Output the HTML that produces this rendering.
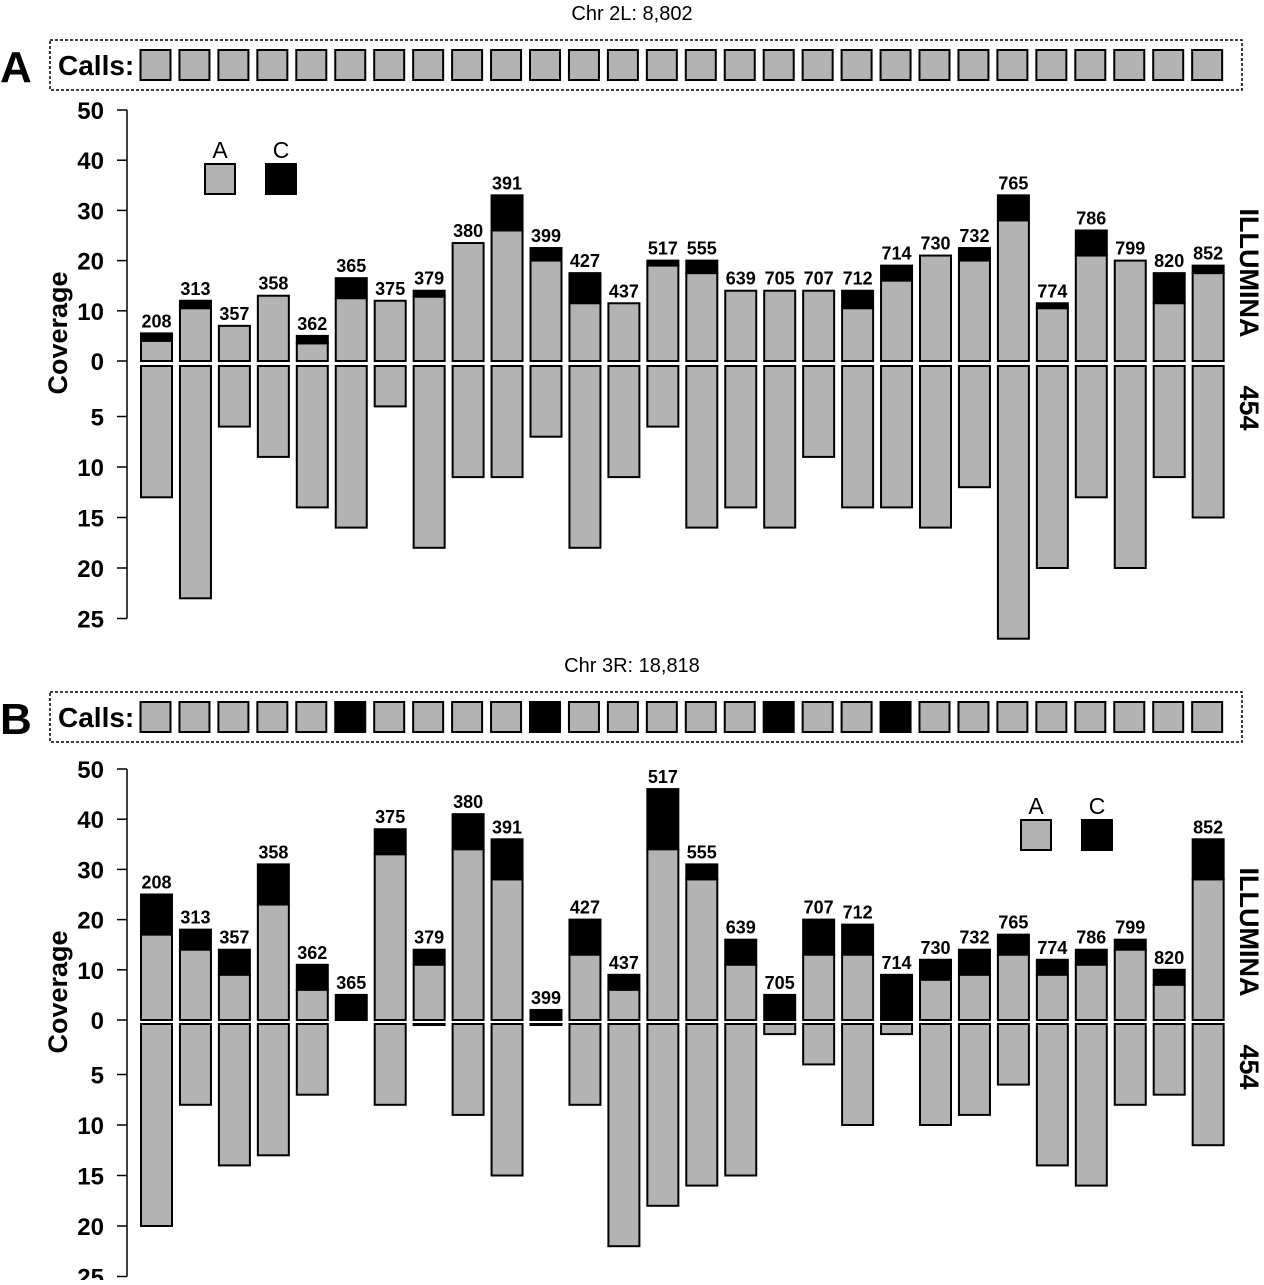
<!DOCTYPE html>
<html><head><meta charset="utf-8"><style>
body{margin:0;background:#fff}
svg text{font-family:"Liberation Sans",sans-serif}
</style></head><body>
<svg id="chart" width="1264" height="1280" xmlns="http://www.w3.org/2000/svg"></svg>
<script>
const categories=["208","313","357","358","362","365","375","379","380","391","399","427","437","517","555","639","705","707","712","714","730","732","765","774","786","799","820","852"];
const aIllumTotal=[5.5,12,7,13,5,16.5,12,14,23.5,33,22.5,17.5,11.5,20,20,14,14,14,14,19,21,22.5,33,11.5,26,20,17.5,19];
const aIllumA=[4,10.5,7,13,3.5,12.5,12,12.8,23.5,26,20,11.5,11.5,19,17.5,14,14,14,10.5,16,21,20,28,10.5,21,20,11.5,17.5];
const a454=[13,23,6,9,14,16,4,18,11,11,7,18,11,6,16,14,16,9,14,14,16,12,27,20,13,20,11,15];
const aCalls=[0,0,0,0,0,0,0,0,0,0,0,0,0,0,0,0,0,0,0,0,0,0,0,0,0,0,0,0];
const bIllumTotal=[25,18,14,31,11,5,38,14,41,36,2,20,9,46,31,16,5,20,19,9,12,14,17,12,14,16,10,36];
const bIllumA=[17,14,9,23,6,0,33,11,34,28,0,13,6,34,28,11,0,13,13,0,8,9,13,9,11,14,7,28];
const b454=[20,8,14,13,7,0,8,0.1,9,15,0.1,8,22,18,16,15,1,4,10,1,10,9,6,14,16,8,7,12];
const bCalls=[0,0,0,0,0,1,0,0,0,0,1,0,0,0,0,0,1,0,0,1,0,0,0,0,0,0,0,0];
const upTicks=[0,10,20,30,40,50];
const downTicks=[0,5,10,15,20,25];

const svg=document.getElementById('chart');
const NS='http://www.w3.org/2000/svg';
function mk(tag,attrs,parent,text){const e=document.createElementNS(NS,tag);for(const k in attrs)e.setAttribute(k,attrs[k]);if(text!==undefined)e.textContent=text;(parent||svg).appendChild(e);return e;}
const GRAY='#b3b3b3';
function xLeft(i){return 141+i*38.95;}
const BW=31;
const UP=5.02, DN=10.1;

function panel(o){
  const g=mk('g',{});
  
  
  const yUp=v=>o.zeroUp-v*UP;
  const yDn=v=>o.zeroDn+v*DN;
  let t=mk('text',{x:632,y:o.top-20,'font-size':20,'text-anchor':'middle'},g,o.title);
  
  t=mk('text',{x:0,y:o.top+42,'font-size':44,'font-weight':'bold'},g,o.id.toUpperCase());
  
  let r=mk('rect',{x:50,y:o.top,width:1192,height:50,fill:'none',stroke:'#000','stroke-width':1.5,'stroke-dasharray':'3,2'},g);
  
  t=mk('text',{x:58,y:o.top+35,'font-size':28,'font-weight':'bold'},g,'Calls:');
  
  o.calls.forEach((c,i)=>{
    const s=mk('rect',{x:xLeft(i)-0.5,y:o.top+10,width:30,height:30,fill:c?'#000':GRAY,stroke:'#000','stroke-width':2},g);
    
  });
  let l=mk('line',{x1:127,x2:127,y1:yUp(50),y2:yDn(25),stroke:'#000','stroke-width':1.5},g);
  
  upTicks.forEach(v=>{
    mk('line',{x1:117,x2:127,y1:yUp(v),y2:yUp(v),stroke:'#000','stroke-width':1.5},g);
    const tt=mk('text',{x:104,y:yUp(v)+9,'font-size':24,'font-weight':'bold','text-anchor':'end'},g,v);
    
  });
  downTicks.forEach(v=>{
    if(v===0)return;
    mk('line',{x1:117,x2:127,y1:yDn(v),y2:yDn(v),stroke:'#000','stroke-width':1.5},g);
    const tt=mk('text',{x:104,y:yDn(v)+9,'font-size':24,'font-weight':'bold','text-anchor':'end'},g,v);
    
  });
  t=mk('text',{x:0,y:0,'font-size':27,'font-weight':'bold','text-anchor':'middle',transform:`translate(67,${o.zeroUp-28}) rotate(-90)`},g,'Coverage');
  
  t=mk('text',{x:0,y:0,'font-size':27,'font-weight':'bold','text-anchor':'middle',transform:`translate(1240,${o.zeroUp-88}) rotate(90)`},g,'ILLUMINA');
  
  t=mk('text',{x:0,y:0,'font-size':27,'font-weight':'bold','text-anchor':'middle',transform:`translate(1240,${o.zeroUp+47}) rotate(90)`},g,'454');
  
  categories.forEach((c,i)=>{
    const x=xLeft(i),tot=o.tot[i],a=o.a[i];
    if(tot>a){const b=mk('rect',{x:x,y:yUp(tot),width:BW,height:(tot-a)*UP,fill:'#000',stroke:'#000','stroke-width':2},g);
      }
    if(a>0){const b=mk('rect',{x:x,y:yUp(a),width:BW,height:a*UP,fill:GRAY,stroke:'#000','stroke-width':2},g);
      }
    const lb=mk('text',{x:x+BW/2,y:yUp(tot)-6,'font-size':18,'font-weight':'bold','text-anchor':'middle'},g,c);
    
    const d=o.d[i];
    if(d>0){const b=mk('rect',{x:x,y:yDn(0),width:BW,height:Math.max(d*DN,1),fill:GRAY,stroke:'#000','stroke-width':2},g);
      }
  });
  const lg=mk('g',{},g);
  
  mk('text',{x:o.lx+15,y:o.ly-6,'font-size':23,'text-anchor':'middle'},lg,'A');
  mk('rect',{x:o.lx,y:o.ly,width:30,height:30,fill:GRAY,stroke:'#000','stroke-width':2},lg);
  mk('text',{x:o.lx+76,y:o.ly-6,'font-size':23,'text-anchor':'middle'},lg,'C');
  mk('rect',{x:o.lx+61,y:o.ly,width:30,height:30,fill:'#000',stroke:'#000','stroke-width':2},lg);
}
panel({id:'a',title:'Chr 2L: 8,802',top:40,zeroUp:361,zeroDn:366,tot:aIllumTotal,a:aIllumA,d:a454,calls:aCalls,lx:205,ly:164});
panel({id:'b',title:'Chr 3R: 18,818',top:692,zeroUp:1020,zeroDn:1024,tot:bIllumTotal,a:bIllumA,d:b454,calls:bCalls,lx:1021,ly:820});
</script>
</body></html>
